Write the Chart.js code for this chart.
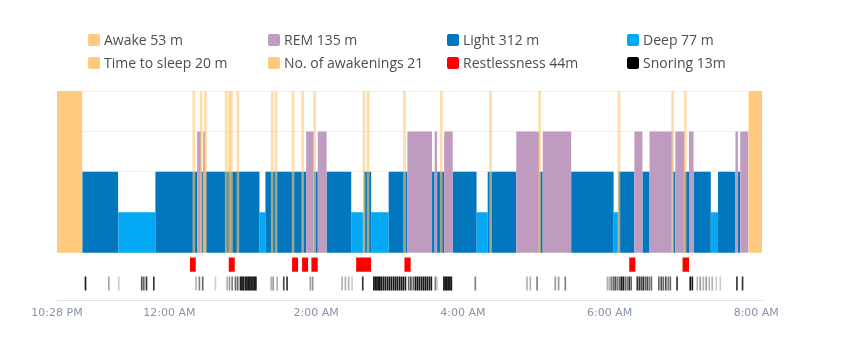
<!DOCTYPE html>
<html><head><meta charset="utf-8">
<script src="https://cdn.jsdelivr.net/npm/chart.js@4"></script>
<style>
html,body{margin:0;padding:0;background:#fff;}
#wrap{position:relative;width:849px;height:355px;overflow:hidden;}
canvas{position:absolute;left:0;top:0;}
#legend{position:absolute;left:0;top:0;width:849px;height:80px;font-family:'Open Sans',sans-serif;font-size:14px;color:#4d4d4d;}
.item{position:absolute;display:flex;align-items:center;white-space:nowrap;height:18px;line-height:18px;}
.box{width:12px;height:12px;border-radius:2px;margin-right:4px;flex:none;}
</style></head>
<body><div id="wrap"><canvas id="c" width="849" height="355"></canvas><div id="legend"></div></div>
<script>
// All times are minutes after 10:28 PM
const tickMinutes = [0, 92, 212, 332, 452, 572];
const tickLabels = ['10:28 PM', '12:00 AM', '2:00 AM', '4:00 AM', '6:00 AM', '8:00 AM'];
const endMinute = 576.7;

const legendLabels = ['Awake 53 m', 'REM 135 m', 'Light 312 m', 'Deep 77 m',
  'Time to sleep 20 m', 'No. of awakenings 21', 'Restlessness 44m', 'Snoring 13m'];

const awakeSegments = [[0, 20.6], [565.7, 576.7]];
const remSegments = [[114.6, 117.9], [119.6, 121.4], [203.8, 210.0], [213.3, 220.5], [286.6, 306.8],
  [308.9, 310.9], [316.7, 323.7], [375.7, 394.6], [397.3, 420.6], [472.3, 478.9], [484.7, 503.6],
  [505.8, 513.3], [517.0, 520.7], [555.0, 557.0], [558.9, 565.7]];
const lightSegments = [[20.6, 50.0], [80.5, 114.6], [117.9, 119.6], [121.4, 165.6], [170.5, 203.8],
  [210.0, 213.3], [220.5, 240.7], [251.0, 257.0], [271.3, 286.6], [306.8, 308.9], [310.9, 316.7],
  [323.7, 343.2], [352.3, 375.7], [394.6, 397.3], [420.6, 455.3], [459.2, 472.3], [478.9, 484.7],
  [503.6, 505.8], [513.3, 517.0], [520.7, 534.8], [540.7, 555.0], [557.0, 558.9]];
const deepSegments = [[50.0, 80.5], [165.6, 170.5], [240.7, 251.0], [257.0, 271.3], [343.2, 352.3],
  [455.3, 459.2], [534.8, 540.7]];
const awakenings = [111.9, 117.9, 121.4, 138.4, 141.1, 142.7, 148.0, 176.0, 179.2, 193.1, 201.0,
  210.8, 251.2, 254.5, 284.3, 314.3, 354.7, 394.8, 459.7, 503.6, 513.9];
const restlessSegments = [[108.6, 113.5], [140.5, 145.4], [192.3, 197.2], [200.5, 205.4], [208.1, 213.3],
  [244.7, 256.9], [284.2, 289.3], [468.1, 473.1], [511.7, 517.0]];
const snoreTimes = [23.3, 42.4, 50.5, 69.3, 71.0, 73.2, 79.2, 113.8, 116.5, 119.2, 129.6, 139.2, 141.1,
  143.3, 146.0, 147.8, 150.1, 151.3, 152.5, 154.1, 155.4, 156.6, 157.8, 159.0, 160.3, 161.5, 162.7,
  175.2, 176.8, 180.1, 185.5, 188.2, 207.3, 209.2, 233.2, 235.9, 238.6, 241.4, 250.1,
  259.2, 260.4, 261.7, 262.9, 264.1, 265.4, 267.0, 268.6, 270.3, 271.9, 273.5, 275.2, 276.8, 278.4,
  280.1, 281.7, 283.3, 285.0, 287.7, 289.5, 291.5, 293.2, 294.8, 296.4, 298.1, 299.7, 301.3, 302.9,
  304.6, 306.2, 309.5, 310.9, 316.5, 317.7, 318.9, 320.1, 321.4, 322.6, 342.2, 384.5, 387.2, 392.7,
  407.6, 410.3, 415.8, 450.2, 451.8, 453.4, 455.1, 456.7, 458.3, 460.0, 461.6, 463.2, 464.9, 466.5,
  468.1, 469.7, 474.7, 476.4, 478.0, 479.6, 481.3, 482.9, 484.5, 486.2, 492.3, 494.3, 496.0, 498.0,
  500.0, 501.7, 507.2, 518.0, 519.7, 523.8, 526.2, 528.7, 531.1, 533.6, 536.0, 539.3, 542.6, 556.2, 560.8];
const snoreLevels = [0.9, 0.35, 0.2, 0.7, 0.6, 0.8, 0.8, 0.3, 0.5, 0.6, 0.2, 0.3, 0.4,
  0.5, 0.6, 0.6, 0.9, 0.9, 0.9, 0.9, 0.9, 0.9, 0.9, 0.9, 0.9, 0.9, 0.9,
  0.3, 0.4, 0.3, 0.7, 0.8, 0.4, 0.4, 0.3, 0.3, 0.3, 0.2, 0.8,
  0.9, 0.9, 0.9, 0.9, 0.9, 0.9, 0.9, 0.9, 0.9, 0.9, 0.9, 0.9, 0.9, 0.9,
  0.9, 0.9, 0.9, 0.9, 0.6, 0.7, 0.6, 0.9, 0.9, 0.9, 0.9, 0.9, 0.9, 0.9,
  0.9, 0.9, 0.5, 0.2, 0.9, 0.9, 0.9, 0.9, 0.9, 0.9, 0.5, 0.3, 0.3, 0.5,
  0.4, 0.4, 0.5, 0.3, 0.3, 0.5, 0.6, 0.7, 0.5, 0.6, 0.9, 0.9, 0.6, 0.5,
  0.8, 0.6, 0.8, 0.8, 0.7, 0.8, 0.6, 0.7, 0.5, 0.6, 0.6, 0.7, 0.6, 0.7,
  0.5, 0.6, 0.8, 0.9, 0.9, 0.3, 0.4, 0.3, 0.4, 0.3, 0.3, 0.2, 0.2, 0.8, 0.8];

const colors = {awake: '#ffc97e', rem: '#bf9bc0', light: '#0277bd', deep: '#03a9f4', restless: '#ff0000', snore: '#000000'};
const legendColors = [colors.awake, colors.rem, colors.light, colors.deep, colors.awake, colors.awake, colors.restless, colors.snore];

// legend (HTML grid, 4 columns x 2 rows)
const colX = [88, 268, 447, 627], rowY = [31, 54];
const lg = document.getElementById('legend');
legendLabels.forEach((t, i) => {
  const d = document.createElement('div');
  d.className = 'item';
  d.style.left = colX[i % 4] + 'px';
  d.style.top = rowY[Math.floor(i / 4)] + 'px';
  d.innerHTML = '<span class="box" style="background:' + legendColors[i] + '"></span><span></span>';
  d.lastChild.textContent = t;
  lg.appendChild(d);
});

function steps(segs, top, base) {
  const pts = [];
  segs.forEach(([s, e]) => { pts.push({x: s, y: top}, {x: e, y: base}); });
  return pts;
}
const restBand = [-0.47, -0.12], snoreBand = [-0.93, -0.6];

function stageDataset(segs, level, color, order) {
  return {type: 'line', data: steps(segs, level, 0), stepped: true, fill: 'origin',
    backgroundColor: color, borderWidth: 0, pointRadius: 0, order: order};
}

new Chart(document.getElementById('c'), {
  type: 'line',
  data: {datasets: [
    {type: 'bar', data: awakenings.map(t => ({x: t, y: [0, 4]})), backgroundColor: 'rgba(255,196,110,0.6)',
      barThickness: 2, grouped: false, borderWidth: 0, order: 0},
    stageDataset(awakeSegments, 4, colors.awake, 1),
    stageDataset(remSegments, 3, colors.rem, 2),
    stageDataset(lightSegments, 2, colors.light, 3),
    stageDataset(deepSegments, 1, colors.deep, 4),
    {type: 'line', data: steps(restlessSegments, restBand[1], restBand[0]), stepped: true,
      fill: {value: restBand[0]}, backgroundColor: colors.restless, borderWidth: 0, pointRadius: 0, order: 5},
    {type: 'bar', data: snoreTimes.map(t => ({x: t, y: snoreBand})),
      backgroundColor: snoreLevels.map(l => 'rgba(0,0,0,' + l + ')'),
      barThickness: 1, grouped: false, borderWidth: 0, order: 6}
  ]},
  options: {
    responsive: false, animation: false, events: [],
    layout: {padding: {left: 57, right: 87, top: 91, bottom: 29}},
    plugins: {legend: {display: false}, tooltip: {enabled: false}},
    scales: {
      x: {type: 'linear', min: 0, max: endMinute, offset: false,
        grid: {display: false, drawTicks: false},
        border: {display: true, color: '#dbe3ee', width: 1},
        afterBuildTicks: s => { s.ticks = tickMinutes.map(v => ({value: v})); },
        ticks: {autoSkip: false, maxRotation: 0, padding: 6, color: '#8793a6',
          font: {family: 'DejaVu Sans', size: 11},
          callback: (v, i) => tickLabels[i]}},
      y: {min: -1.19, max: 4, offset: false,
        afterBuildTicks: s => { s.ticks = [2, 3, 4].map(v => ({value: v})); },
        grid: {drawTicks: false, color: '#f0f0f0'},
        border: {display: false},
        ticks: {display: false}}
    }
  }
});
</script>
</body></html>
